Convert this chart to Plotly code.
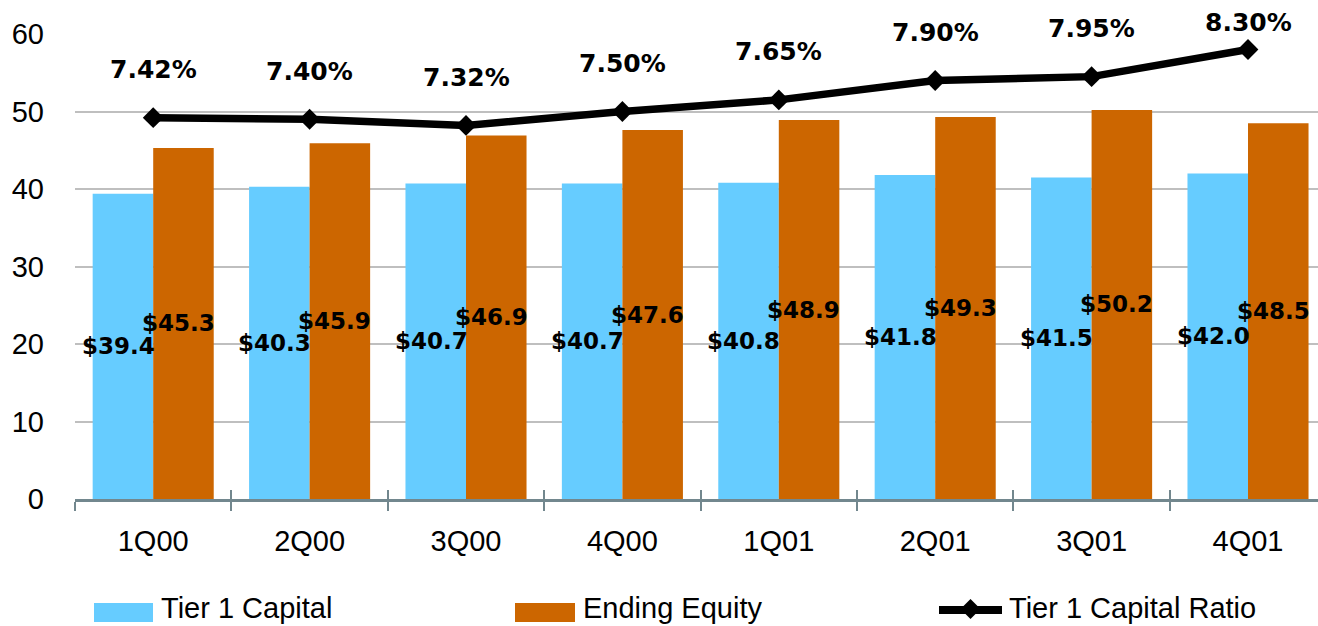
import plotly.graph_objects as go

# ---- data ----
quarters = ["1Q00", "2Q00", "3Q00", "4Q00", "1Q01", "2Q01", "3Q01", "4Q01"]
tier1_capital = [39.4, 40.3, 40.7, 40.7, 40.8, 41.8, 41.5, 42.0]
ending_equity = [45.3, 45.9, 46.9, 47.6, 48.9, 49.3, 50.2, 48.5]
tier1_ratio = [7.42, 7.40, 7.32, 7.50, 7.65, 7.90, 7.95, 8.30]
y_ticks = [0, 10, 20, 30, 40, 50, 60]

# ---- layout geometry ----
W, H = 1318, 626
ML, MR, MT, MB = 75, 0, 34, 127
plot_w = W - ML - MR
plot_h = H - MT - MB
cat_px = 156.4
x_range = [-0.5, -0.5 + plot_w / cat_px]
y_range = [0, 60]
y2_range = [2.5, 8.5]

BLUE = "#66CCFF"
ORANGE = "#CC6600"
AXIS = "#72878E"
GRID = "#BFBFBF"
TXT = "Liberation Sans, Arial, sans-serif"
BOLD = "DejaVu Sans, sans-serif"


def px_x(p):
    return (p - ML) / plot_w


def px_y(p):
    return (H - MB - p) / plot_h


fig = go.Figure()
fig.add_bar(x=quarters, y=tier1_capital, name="Tier 1 Capital",
            marker=dict(color=BLUE, line=dict(width=0)), hoverinfo="x+y")
fig.add_bar(x=quarters, y=ending_equity, name="Ending Equity",
            marker=dict(color=ORANGE, line=dict(width=0)), hoverinfo="x+y")
fig.add_scatter(x=quarters, y=tier1_ratio, yaxis="y2", name="Tier 1 Capital Ratio",
                mode="lines+markers", line=dict(color="black", width=7.5),
                marker=dict(symbol="diamond", size=16, color="black"), cliponaxis=False)
# dummy trace to give the overlay axis its categories (for crossing tick marks)
fig.add_scatter(x=quarters, y=[0] * len(quarters), xaxis="x2", mode="none",
                showlegend=False, hoverinfo="skip")

annotations = []
for q, v in zip(quarters, tier1_capital):
    annotations.append(dict(x=q, y=v / 2, xref="x", yref="y", text=f"${v:.1f}",
                            showarrow=False, xshift=-35,
                            font=dict(family=BOLD, size=23, color="black", weight="bold")))
for q, v in zip(quarters, ending_equity):
    annotations.append(dict(x=q, y=v / 2, xref="x", yref="y", text=f"${v:.1f}",
                            showarrow=False, xshift=25,
                            font=dict(family=BOLD, size=23, color="black", weight="bold")))
for q, r in zip(quarters, tier1_ratio):
    py = MT + (y2_range[1] - r) / (y2_range[1] - y2_range[0]) * plot_h
    shift = min(48, py - 22)
    annotations.append(dict(x=q, y=r, xref="x", yref="y2", text=f"{r:.2f}%",
                            showarrow=False, yshift=shift,
                            font=dict(family=BOLD, size=25, color="black", weight="bold")))

# custom legend
LEG_TXT_Y = 608
legend_items = [("Tier 1 Capital", 94, 153, 159), ("Ending Equity", 515, 575, 581)]
shapes = []
for label, x0, x1, tx in legend_items:
    color = BLUE if label == "Tier 1 Capital" else ORANGE
    shapes.append(dict(type="rect", xref="paper", yref="paper",
                       x0=px_x(x0), x1=px_x(x1), y0=px_y(622), y1=px_y(603),
                       fillcolor=color, line=dict(width=0), layer="above"))
    annotations.append(dict(x=px_x(tx), y=px_y(LEG_TXT_Y), xref="paper", yref="paper",
                            xanchor="left", yanchor="middle", text=label, showarrow=False,
                            font=dict(family=TXT, size=29, color="black")))
shapes.append(dict(type="line", xref="paper", yref="paper",
                   x0=px_x(939), x1=px_x(1002), y0=px_y(610), y1=px_y(610),
                   line=dict(color="black", width=8), layer="above"))
shapes.append(dict(type="path", xref="paper", yref="paper", xsizemode="pixel", ysizemode="pixel",
                   xanchor=px_x(970.5), yanchor=px_y(609),
                   path="M-10,0 L0,10 L10,0 L0,-10 Z", fillcolor="black",
                   line=dict(width=0), layer="above"))
annotations.append(dict(x=px_x(1007), y=px_y(LEG_TXT_Y), xref="paper", yref="paper",
                        xanchor="left", yanchor="middle", text="Tier 1 Capital Ratio",
                        showarrow=False, font=dict(family=TXT, size=29, color="black")))

fig.update_layout(
    width=W, height=H,
    margin=dict(l=ML, r=MR, t=MT, b=MB, pad=0),
    paper_bgcolor="white", plot_bgcolor="white",
    barmode="group", bargap=0.226, bargroupgap=0,
    showlegend=False,
    font=dict(family=TXT, size=29, color="black"),
    xaxis=dict(type="category", range=x_range, showline=True, linecolor=AXIS, linewidth=2.5,
               ticks="outside", ticklen=9, tickwidth=2, tickcolor=AXIS, tickson="boundaries",
               showgrid=False, tickfont=dict(family=TXT, size=29, color="black"),
               ticklabelstandoff=14),
    xaxis2=dict(type="category", range=x_range, overlaying="x", anchor="y", side="bottom",
                categoryorder="array", categoryarray=quarters,
                ticks="inside", ticklen=9, tickwidth=2, tickcolor=AXIS, tickson="boundaries",
                showticklabels=False, showgrid=False, showline=False, zeroline=False),
    yaxis=dict(range=y_range, tickvals=y_ticks, showgrid=True, gridcolor=GRID, gridwidth=2,
               zeroline=False, showline=False, ticks="",
               tickfont=dict(family=TXT, size=29, color="black"), ticklabelstandoff=30),
    yaxis2=dict(range=y2_range, overlaying="y", side="right", visible=False),
    annotations=annotations,
    shapes=shapes,
)

fig.write_html("out.html")
